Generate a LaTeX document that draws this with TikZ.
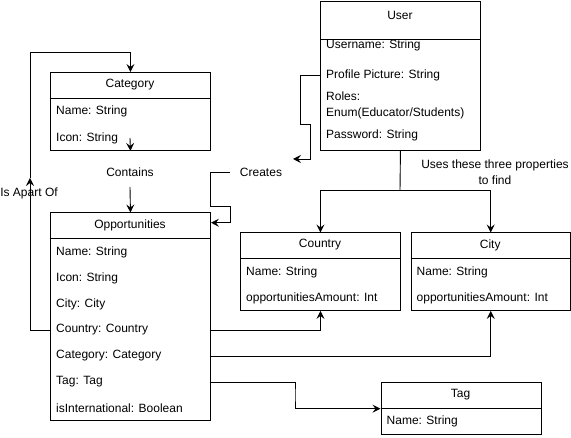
\documentclass[tikz,border=0pt]{standalone}
\usepackage{fontspec}
\setmainfont{Liberation Sans}
\usetikzlibrary{arrows.meta,positioning,calc}

\tikzset{
	classbox/.style={draw,line width=0.9pt,anchor=north west,inner sep=0pt,minimum width=160pt},
	title/.style={inner sep=0pt,font=\fontsize{12}{14}\selectfont},
	field/.style={anchor=west,inner sep=0pt,align=left,font=\fontsize{12}{15.6}\selectfont},
	link/.style={line width=0.9pt,-{Stealth[length=8pt,width=8pt,inset=3pt]}},
	plain/.style={line width=0.9pt},
}

\begin{document}
\begin{tikzpicture}[x=1pt,y=-1pt]
	\useasboundingbox (0,0) rectangle (571,438);

	% boxes
	\node[classbox,minimum height=149pt  ] (user)    at (320,  1  ) {};
	\node[classbox,minimum height=78pt   ] (cat)     at ( 50, 72  ) {};
	\node[classbox,minimum height=207.5pt] (opp)     at ( 50,212.5) {};
	\node[classbox,minimum height=77.5pt ] (country) at (240,232.5) {};
	\node[classbox,minimum height=77.5pt,minimum width=159.5pt] (city) at (410.5,232.5) {};
	\node[classbox,minimum height=51.5pt ] (tag)     at (380.5,382.5) {};

	% header lines
	\draw[plain] (320, 39  ) -- (480, 39  );
	\draw[plain] ( 50, 98  ) -- (210, 98  );
	\draw[plain] ( 50,238.5) -- (210,238.5);
	\draw[plain] (240,258.5) -- (400,258.5);
	\draw[plain] (410.5,258.5) -- (570,258.5);
	\draw[plain] (380.5,408) -- (540.5,408);

	% titles
	\node[title] (user-t)    at (400, 15  ) {User};
	\node[title] (cat-t)     at (130, 85  ) {Category};
	\node[title] (opp-t)     at (130,225.5) {Opportunities};
	\node[title] (country-t) at (320,245  ) {Country};
	\node[title] (city-t)    at (490.25,245) {City};
	\node[title] (tag-t)     at (460.5,395) {Tag};

	% fields
	\node[field] (u-name)  at (326, 45  ) {Username: String};
	\node[field] (u-pic)   at (326, 75  ) {Profile Picture: String};
	\node[field] (u-roles) at (326,105.5) {Roles:\\Enum(Educator/Students)};
	\node[field] (u-pass)  at (326,135  ) {Password: String};

	\node[field] (c-name) at (56,111.7) {Name: String};
	\node[field] (c-icon) at (56,138  ) {Icon: String};

	\foreach \y/\n/\t in {252/o-name/{Name: String},278/o-icon/{Icon: String},304/o-city/{City: City},
		330/o-country/{Country: Country},356/o-cat/{Category: Category},382/o-tag/{Tag: Tag},
		408/o-intl/{isInternational: Boolean}}
		\node[field] (\n) at (56,\y) {\t};

	\node[field] (co-name)   at (246,272) {Name: String};
	\node[field] (co-amount) at (246,298) {opportunitiesAmount: Int};
	\node[field] (ci-name)   at (416.5,272) {Name: String};
	\node[field] (ci-amount) at (416.5,298) {opportunitiesAmount: Int};
	\node[field] (t-name)    at (386.5,421.5) {Name: String};

	% labels
	\node[title] (apart)    at ( 29,193) {Is Apart Of};
	\node[title] (contains) at (130,172) {Contains};
	\node[title] (creates)  at (261,172) {Creates};
	\node[title,align=center,font=\fontsize{12}{15.6}\selectfont] (uses) at (495,172) {Uses these three properties\\to find};

	% connectors
	\draw[link] (opp.west |- o-country) -- ++(-20,0) -- (30,178);
	\draw[link] (30,178) |- ($(cat.north)+(0,-20)$) -- (cat.north);

	\draw[link] (130,138) -- (cat.south);
	\draw[link] (130,187) -- (opp.north);

	\draw[link] (user.west |- u-pic) -- (300,75) -- (300,124) -- (310,124) -- (310,159) -- (293,159);
	\draw[link] (230,172.7) -- (210.7,172.7) -- (210.7,206.7) -- (230,206.7) -- (230,222.7) -- (opp.east |- 0,222.7);

	\draw[plain] (user.south) -- (400,190.7) coordinate (split);
	\draw[link] (split) -| (country.north);
	\draw[link] (split) -| (city.north);

	\draw[link] (opp.east |- o-country) -| (country.south);
	\draw[link] (opp.east |- o-cat) -| (city.south);
	\draw[link] (opp.east |- o-tag) -| (295,395) |- (tag.west);
\end{tikzpicture}
\end{document}
